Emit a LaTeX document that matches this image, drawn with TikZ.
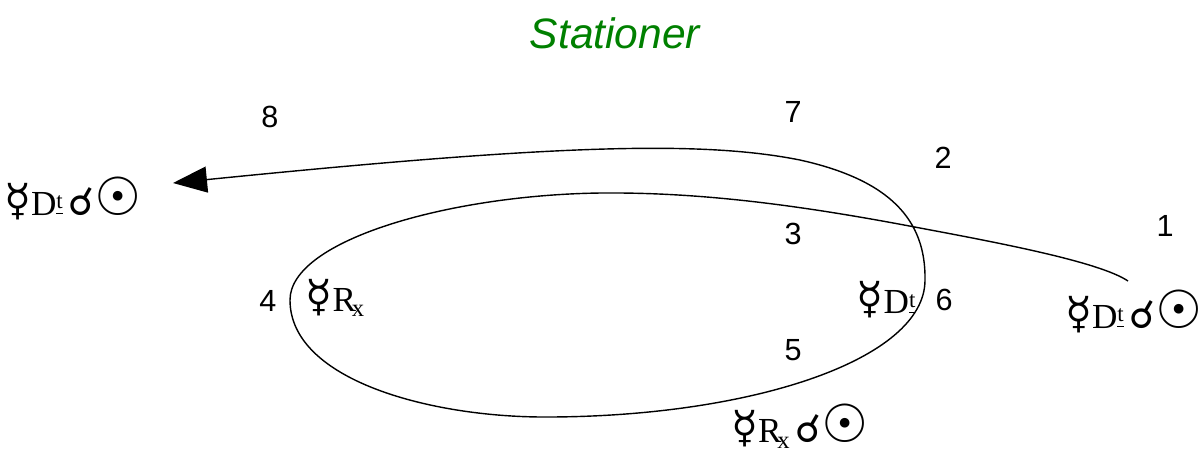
\documentclass[tikz,border=0pt]{standalone}
\usepackage{fontspec}
\setmainfont{Liberation Sans}
\newfontfamily\symfont{DejaVu Sans}
\newfontfamily\serfont{Liberation Serif}
\usetikzlibrary{arrows.meta}
\definecolor{titulo}{RGB}{0,128,0}
\newcommand{\merc}{{\symfont\fontsize{12.5}{12}\selectfont ☿}}
\newcommand{\conj}{{\symfont\fontsize{11}{10}\selectfont ☌}}
\newcommand{\sol}{{\symfont\fontsize{15}{14}\selectfont ☉}}
\newcommand{\direk}{{\serfont\fontsize{10}{10}\selectfont D\raisebox{0.4ex}{\fontsize{6.5}{6}\selectfont\underline{t}}}}
\newcommand{\retro}{{\serfont\fontsize{10}{10}\selectfont R\kern-0.12em\raisebox{-0.35ex}{\fontsize{7}{7}\selectfont x}}}
\begin{document}
\begin{tikzpicture}[x=0.01cm, y=-0.01cm,
		num/.style={font=\fontsize{8.7}{10}\selectfont, inner sep=0pt},
		signo/.style={inner sep=0pt}]
		\useasboundingbox (0,0) rectangle (1200,450);
		% Titulo
		\node[titulo, font=\fontsize{12.1}{14}\itshape\selectfont] (titulo) at (615,33) {Stationer};
		
		% Numeros de posicion
		\node[num] (n1) at (1165,226) {1};
		\node[num] (n2) at (943,158) {2};
		\node[num] (n3) at (793,234) {3};
		\node[num] (n4) at (268,301) {4};
		\node[num] (n5) at (793,350) {5};
		\node[num] (n6) at (944,300) {6};
		\node[num] (n7) at (793,112) {7};
		\node[num] (n8) at (270,117) {8};
		
		% Signos astrologicos
		\node[signo] (izq) at (73,198) {\merc\direk\,\conj\sol};
		\node[signo] (der) at (1134,311) {\merc\direk\,\conj\sol};
		\node[signo] (abajo) at (800,426) {\merc\retro\,\conj\sol};
		\node[signo] (retro) at (335,298) {\merc\retro};
		\node[signo] (direk) at (886,300) {\merc\direk};
		
		% Trayectoria con lazo
		\coordinate (ini) at (1128,281);
		\coordinate (fin) at (173,183);
		\draw[line width=0.4pt, -{Triangle[length=0.34cm, width=0.26cm]}]
			(ini) .. controls (1100,262) and (1000,243) .. (920,228)
			.. controls (800,205) and (700,192) .. (600,193)
			.. controls (450,195) and (290,240) .. (290,300)
			.. controls (290,380) and (430,417) .. (545,417)
			.. controls (750,417) and (925,360) .. (925,280)
			.. controls (926,220) and (890,180) .. (800,160)
			.. controls (700,140) and (550,145) .. (fin);
	\end{tikzpicture}
\end{document}
